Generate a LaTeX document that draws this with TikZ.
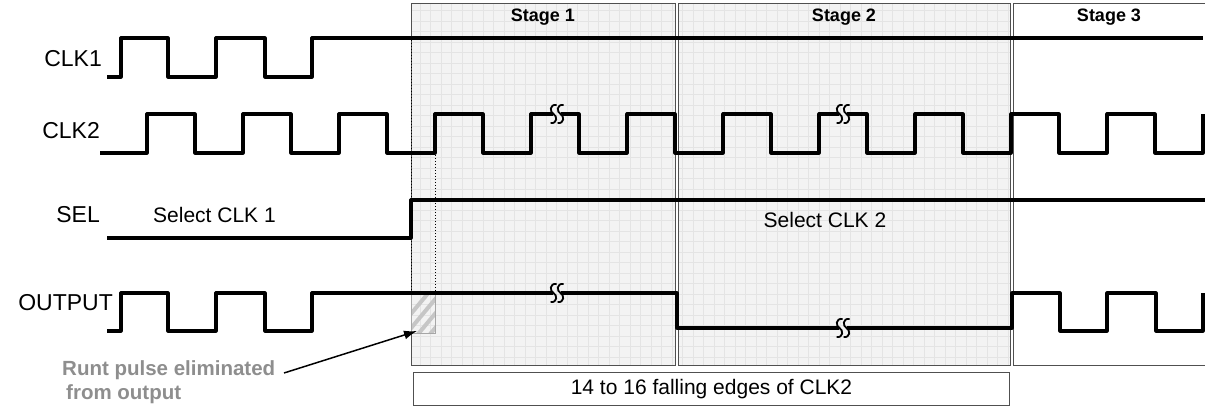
\documentclass[tikz,border=0pt]{standalone}
\usepackage{fontspec}
\setmainfont{Liberation Sans}
\usetikzlibrary{arrows.meta}
\definecolor{stagefill}{HTML}{F3F3F3}
\definecolor{gridc}{HTML}{E4E4E4}
\definecolor{boxline}{HTML}{505050}
\definecolor{runtgray}{HTML}{8E8E8E}
\newcommand\onesbrk[2]{%
  \draw[brk] ({#1+3},{#2-9}) .. controls ({#1-4},{#2-10}) and ({#1-4},{#2-2}) .. ({#1},{#2})
     .. controls ({#1+4},{#2+2}) and ({#1+4},{#2+10}) .. ({#1-3},{#2+9});}
\newcommand\sbreak[2]{\onesbrk{#1-3.5}{#2}\onesbrk{#1+3.5}{#2}}
\begin{document}
\begin{tikzpicture}[x=1pt,y=-1pt,
  sig/.style={line width=3.2pt,line join=round},
  brk/.style={line width=1.8pt},
  stagebox/.style={draw=boxline,line width=1pt},
  lbl/.style={inner sep=0pt,font=\fontsize{23}{26}\selectfont},
  txt/.style={inner sep=0pt,font=\fontsize{21}{24}\selectfont},
  hdr/.style={inner sep=0pt,font=\fontsize{18}{20}\selectfont\bfseries},
  dotline/.style={line width=1pt,dotted},
  pointer/.style={line width=1.5pt,-{Latex[length=13pt,width=9pt]}}]
\useasboundingbox (0,0) rectangle (1205,406);
% stage backgrounds
\fill[stagefill] (411,4) rectangle (675,365);
\fill[stagefill] (678,4) rectangle (1010,365);
\begin{scope}
  \clip (411,4) rectangle (675,365);
  \draw[gridc,line width=0.5pt,step=10.5pt] (411,4) grid (675,365);
\end{scope}
\begin{scope}
  \clip (678,4) rectangle (1010,365);
  \draw[gridc,line width=0.5pt,step=10.5pt] (678,4) grid (1010,365);
\end{scope}
\draw[stagebox] (411,4) rectangle (675,365);
\draw[stagebox] (678,4) rectangle (1010,365);
\draw[stagebox,fill=white] (1013,4) rectangle (1212,365);
\node[hdr] (s1) at (543,17) {Stage 1};
\node[hdr] (s2) at (844,17) {Stage 2};
\node[hdr] (s3) at (1109,17) {Stage 3};
% signal labels
\node[lbl,anchor=east] (lclk1) at (102,59) {CLK1};
\node[lbl,anchor=east] (lclk2) at (100,131) {CLK2};
\node[lbl,anchor=east] (lsel) at (100,215) {SEL};
\node[lbl,anchor=east] (lout) at (113,303) {OUTPUT};
% hatched runt pulse
\begin{scope}
  \clip (411,293) rectangle (435,333);
  \foreach \k in {0,...,8} {
    \draw[gray!45,line width=4pt] ({405+\k*12-20},{345}) -- ({405+\k*12+30},{285});
  }
\end{scope}
\draw[gray!70,line width=1pt] (411,293) rectangle (435,333);
% dotted guides
\draw[dotline] (411.5,40) -- (411.5,293);
\draw[dotline] (435,155) -- (435,292);
% CLK1
\draw[sig] (107,77) -- (121,77) -- (121,38) -- (168,38) -- (168,77) -- (216,77) -- (216,38) -- (265,38) -- (265,77) -- (312,77) -- (312,38) -- (1203,38);
% CLK2
\draw[sig] (100,153) -- (147,153) -- (147,114) -- (195,114) -- (195,153) -- (243,153) -- (243,114) -- (291,114) -- (291,153) -- (339,153) -- (339,114) -- (387,114) -- (387,153) -- (435,153) -- (435,114) -- (483,114) -- (483,153) -- (531,153) -- (531,114) -- (553,114)
  (561,114) -- (579,114) -- (579,153) -- (627,153) -- (627,114) -- (675,114) -- (675,153) -- (723,153) -- (723,114) -- (771,114) -- (771,153) -- (819,153) -- (819,114) -- (839,114)
  (847,114) -- (867,114) -- (867,153) -- (915,153) -- (915,114) -- (963,114) -- (963,153) -- (1011,153) -- (1011,114) -- (1059,114) -- (1059,153) -- (1107,153) -- (1107,114) -- (1155,114) -- (1155,153) -- (1203,153) -- (1203,114);
\sbreak{557}{114}
\sbreak{843}{114}
% SEL
\draw[sig] (107,238) -- (411,238) -- (411,200) -- (1205,200);
\node[txt,anchor=west] (sel1) at (153,215) {Select CLK 1};
\node[txt] (sel2) at (825,220) {Select CLK 2};
% OUTPUT
\draw[sig] (107,331) -- (121,331) -- (121,293) -- (168,293) -- (168,331) -- (216,331) -- (216,293) -- (265,293) -- (265,331) -- (312,331) -- (312,293) -- (553,293)
  (561,293) -- (677,293) -- (677,328) -- (839,328)
  (847,328) -- (1012,328) -- (1012,293) -- (1060,293) -- (1060,331) -- (1107,331) -- (1107,293) -- (1156,293) -- (1156,331) -- (1203,331) -- (1203,293);
\sbreak{557}{293}
\sbreak{843}{328}
% bottom box
\node[txt,draw=boxline,line width=1pt,fill=white,minimum width=596pt,minimum height=33pt,anchor=north west] (edges) at (413,372) {14 to 16 falling edges of CLK2};
% runt label and pointer
\node[inner sep=0pt,anchor=north west,align=left,text=runtgray,font=\fontsize{20.5}{24}\selectfont\bfseries] (runt) at (62,360) {Runt pulse eliminated\\\hspace{4pt}from output};
\coordinate (runtfrom) at (284,373);
\coordinate (runttip) at (417,331);
\draw[pointer] (runtfrom) -- (runttip);
\end{tikzpicture}
\end{document}
